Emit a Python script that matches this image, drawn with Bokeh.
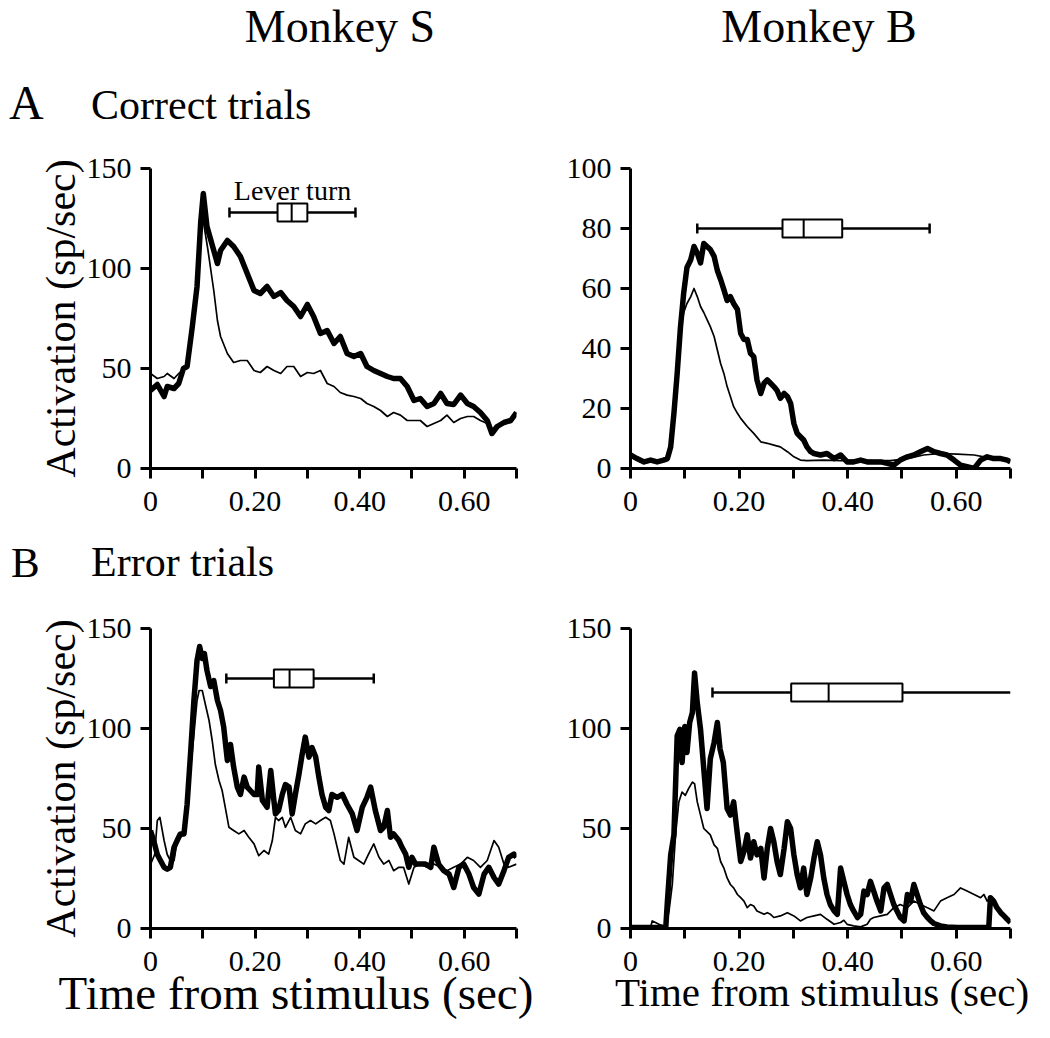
from math import pi
from bokeh.plotting import figure
from bokeh.layouts import column, row
from bokeh.models import FixedTicker, Range1d, CustomJSTickFormatter, Div, Label
from bokeh.embed import file_html
from bokeh.resources import INLINE

FONT = "Liberation Serif"

# ---------------- data ----------------
x_ticks = [0, 0.1, 0.2, 0.3, 0.4, 0.5, 0.6, 0.7]
y_ticks_150 = [0, 50, 100, 150]
y_ticks_100 = [0, 20, 40, 60, 80, 100]

# Panel A, Monkey S (correct trials)
as_t_thick = [0, .013, .026, .032, .045, .054, .063, .070, .080, .089, .096, .101, .108, .121, .128, .134, .147, .159, .172, .185,
              .198, .210, .223, .236, .249, .261, .274, .287, .300, .312, .325, .338, .351, .363, .376, .389, .402, .414, .427, .440,
              .453, .465, .478, .491, .504, .516, .529, .542, .555, .567, .580, .593, .606, .618, .631, .644, .653, .663, .676, .689, .700]
as_y_thick = [39, 42, 36, 41, 40, 42.5, 50, 51, 71, 91, 123, 137.5, 121, 109, 102.5, 109, 114, 111, 106, 97.5,
              89, 87.5, 91, 86, 88, 84, 81, 76, 82, 76, 67.5, 69, 62.5, 66, 57.5, 56, 57.5, 51, 49, 47.5,
              46, 45, 45, 41, 34, 35, 31, 32.5, 37.5, 32.5, 32, 36.7, 32.5, 31, 28, 24, 17.5, 21, 23, 24, 28]
as_t_thin = [0, .013, .026, .032, .045, .054, .063, .070, .080, .089, .096, .099, .110, .121, .128, .134, .147, .159, .172, .185,
             .198, .210, .223, .236, .249, .261, .274, .287, .300, .312, .325, .338, .351, .363, .376, .389, .402, .414, .427, .440,
             .453, .465, .478, .491, .504, .516, .529, .542, .555, .567, .580, .593, .606, .618, .631, .644, .653, .663, .676, .689, .700]
as_y_thin = [47.5, 45, 46, 47.5, 45, 47.5, 49, 51, 71, 91, 126, 127, 109, 89, 74, 66, 57.5, 53, 54, 54,
             49, 48, 51, 49, 47.5, 51, 51, 46, 48, 47.5, 49, 42.5, 41, 38, 36.7, 36, 35, 32.5, 31, 29,
             26, 28, 26.7, 24, 24, 24, 21, 22.5, 24, 26.7, 23, 25, 26, 26, 24, 22.5, 17.5, 21, 23, 24, 28]
as_box = [0.151, 0.243, 0.270, 0.300, 0.392]   # whisker lo, q1, median, q3, whisker hi
as_box_y = 128

# Panel A, Monkey B (correct trials)
ab_t_thick = [0, .012, .025, .037, .049, .061, .068, .074, .080, .086, .092, .098, .104, .111, .117, .123, .129, .135, .141, .147,
              .154, .160, .166, .172, .178, .184, .190, .197, .203, .209, .215, .221, .227, .233, .240, .246, .252, .258, .264, .270,
              .276, .283, .289, .295, .301, .307, .313, .319, .325, .332, .338, .350, .362, .375, .387, .399, .411, .424, .436, .448,
              .461, .473, .485, .497, .510, .522, .534, .547, .559, .571, .583, .596, .608, .620, .633, .645, .657, .669, .682, .694, .700]
ab_y_thick = [4.5, 3.3, 2.2, 2.8, 2.2, 2.8, 3.3, 7.2, 18.4, 31.7, 47, 58.5, 67, 69.6, 74, 71.8, 68.5, 75, 74, 73,
              70.7, 66, 63, 59.6, 56, 57.3, 55, 53, 45, 43, 43, 38.4, 37.3, 29.5, 25, 28.4, 29.5, 28.4, 27.3, 26,
              23.4, 25, 24, 21.7, 15, 11.7, 10.6, 9.5, 7.2, 5.6, 5, 4.5, 5, 3.3, 4.5, 2.2, 2.2, 2.8, 2.2, 2.2,
              2.2, 1.7, 1.1, 2.8, 3.9, 4.5, 5.6, 6.7, 5.6, 5, 4.5, 2.8, 1.1, 0.6, 0, 2.8, 3.9, 3.3, 3.3, 2.8, 2.2]
ab_t_thin = [0, .018, .049, .068, .074, .080, .086, .092, .098, .104, .111, .117, .123, .129, .135, .141, .147, .154, .160, .166,
             .172, .178, .184, .190, .197, .203, .215, .227, .240, .252, .264, .276, .289, .301, .313, .325, .356, .387, .418, .448,
             .479, .510, .540, .571, .602, .633, .651, .669, .700]
ab_y_thin = [3.9, 2.2, 2.2, 2.8, 6, 17.3, 31.7, 46, 52, 55, 57.3, 60, 57.3, 54, 52, 49.6, 47.3, 44, 39.5, 35,
             31.7, 27.3, 24, 20.6, 18.4, 16.7, 14, 11.7, 8.9, 8.4, 7.8, 7.2, 5.6, 3.9, 2.8, 2.6, 2.8, 2.6, 2.8, 2.6,
             2.6, 3.3, 4.5, 5, 4.8, 4.5, 3.9, 3.9, 2.8]
ab_box = [0.123, 0.280, 0.319, 0.390, 0.551]
ab_box_y = 80

# Panel B, Monkey S (error trials)
bs_t_thick = [0, .006, .013, .019, .026, .032, .038, .045, .051, .057, .064, .070, .077, .083, .089, .094, .099, .103, .108, .115,
              .121, .128, .134, .140, .147, .153, .159, .166, .172, .179, .185, .191, .198, .204, .207, .214, .223, .230, .236, .239,
              .245, .252, .258, .265, .271, .277, .284, .290, .296, .303, .309, .316, .322, .328, .335, .341, .347, .357, .367, .376,
              .386, .395, .405, .414, .421, .430, .440, .446, .453, .459, .465, .475, .481, .488, .494, .500, .507, .516, .526, .536,
              .542, .551, .561, .571, .580, .590, .599, .609, .618, .628, .638, .647, .657, .666, .676, .685, .695, .700]
bs_y_thick = [49, 44, 37, 34, 30.6, 29.7, 30.6, 40.6, 44, 47.3, 47.3, 62, 89, 114, 134, 141, 135, 137.5, 129, 121,
              124, 114, 109, 100.7, 84, 92, 80.7, 70.7, 67, 75.7, 70.7, 69, 67, 67, 80.7, 64, 60.6, 79, 64, 57.3,
              59, 67, 72, 70.7, 57.3, 67, 77.3, 87, 95.7, 85.7, 90.4, 85.7, 75.7, 67, 60.6, 59, 67, 65.6, 67, 62,
              57.3, 49, 60.6, 65.6, 70.7, 59, 49, 50.6, 59, 45.6, 47.3, 44, 40.6, 37.2, 30.6, 35.6, 32.2, 32.2, 32.2, 30.6,
              40.6, 32.2, 28.9, 27.2, 20.5, 30.6, 32.2, 27.2, 20.5, 17.2, 27.2, 30.6, 25.5, 22.2, 28.9, 35.6, 37.2, 35.6]
bs_t_thin = [0, .008, .013, .018, .026, .032, .038, .045, .051, .057, .064, .070, .077, .083, .089, .093, .099, .105, .112, .118,
             .124, .131, .137, .143, .150, .159, .169, .179, .188, .198, .207, .217, .226, .233, .239, .245, .252, .258, .268, .277,
             .287, .296, .306, .316, .325, .335, .344, .351, .357, .363, .370, .379, .389, .398, .408, .417, .427, .437, .446, .456,
             .465, .475, .484, .494, .504, .516, .529, .542, .555, .567, .580, .593, .606, .618, .631, .644, .657, .666, .676, .685, .700]
bs_y_thin = [32, 37, 54, 55.6, 44, 37, 34, 34, 44, 45.6, 47.3, 60.6, 80.7, 97, 114, 119, 119, 112, 104, 94,
             82, 74, 69, 60.6, 50.6, 49, 47.3, 49, 45.6, 42.3, 36.4, 39, 37.2, 44, 55.6, 54, 55.6, 50.6, 55.6, 49,
             47.3, 52.3, 54, 52.3, 54, 55.6, 54, 47.3, 40.6, 34, 32.2, 45.6, 35.6, 34, 32.2, 37.2, 42.3, 35.6, 32.2, 34,
             28.9, 30.6, 30.6, 22.2, 30.6, 32.2, 30.6, 32.2, 30.6, 28.9, 30.6, 32.2, 35.6, 34, 30.6, 34, 44, 40.6, 32.2, 30.6, 32.2]
bs_box = [0.145, 0.236, 0.266, 0.312, 0.427]
bs_box_y = 125

# Panel B, Monkey B (error trials)
bb_t_thick = [0, .061, .065, .068, .074, .080, .086, .091, .095, .100, .104, .109, .114, .118, .123, .129, .135, .141, .147, .154,
              .160, .165, .171, .178, .184, .190, .197, .203, .209, .215, .221, .227, .233, .240, .246, .252, .258, .264, .270, .276,
              .283, .289, .295, .301, .307, .313, .319, .325, .332, .338, .344, .350, .356, .362, .368, .375, .381, .387, .393, .399,
              .405, .411, .418, .424, .430, .436, .442, .448, .454, .461, .467, .473, .479, .485, .491, .497, .504, .510, .516, .522,
              .528, .534, .540, .547, .553, .559, .571, .583, .602, .620, .645, .660, .663, .669, .675, .682, .688, .694, .700]
bb_y_thick = [0.5, 0.5, 0.5, 13.7, 36.8, 46.8, 96.3, 99.6, 83, 101, 88, 103, 108, 127.7, 112.8, 99.6, 79.8, 60, 84.8, 93,
              103, 89.7, 83, 60, 56.7, 63.3, 46.8, 33.5, 38.5, 46.8, 35.2, 43.4, 36.8, 40.1, 25.3, 40.1, 50, 43.4, 33.5, 27,
              40.1, 53.4, 50, 36.8, 27, 20.3, 30.2, 17, 25.3, 35.2, 43.4, 36.8, 25.3, 17, 12, 8.8, 7.1, 30.2, 23.6, 17,
              12, 8.8, 5.5, 7.1, 18.7, 17, 23.6, 18.7, 13.7, 8.8, 20.3, 22, 17, 12, 8.8, 5.5, 3.8, 17, 13.7, 22,
              17, 12, 7.9, 5.5, 3.8, 2.5, 1.3, 0.8, 0.5, 0.5, 0.5, 0.5, 15.4, 13.7, 10.4, 7.9, 6.3, 4.6, 3]
bb_t_thin = [0, .018, .037, .040, .046, .055, .065, .071, .077, .083, .089, .095, .101, .107, .114, .118, .123, .129, .135, .141,
             .147, .154, .160, .166, .172, .178, .184, .190, .197, .203, .209, .215, .221, .227, .233, .240, .246, .252, .258, .264,
             .276, .289, .301, .313, .325, .338, .350, .362, .375, .387, .393, .399, .411, .424, .436, .442, .448, .461, .473, .485,
             .497, .510, .522, .534, .547, .559, .571, .583, .596, .608, .620, .633, .645, .651, .657, .663, .669, .682, .694, .700]
bb_y_thin = [1.3, 0.5, 0.5, 3.8, 3, 1.8, 0.8, 8.8, 22, 46.8, 63.3, 68.2, 66.6, 69.9, 73.2, 72.4, 63.3, 56.7, 50, 48.4,
             46.8, 41.8, 40.1, 33.5, 30.2, 25.3, 22, 20.3, 17, 15.4, 13.7, 10.4, 12, 11.2, 8.8, 7.9, 7.1, 7.9, 7.1, 5.5,
             6.3, 7.9, 6.3, 3.8, 5.5, 6.3, 7.1, 4.6, 2.1, 3, 4.1, 2.1, 1.3, 0.8, 2.1, 4.6, 5.5, 6.3, 7.1, 10.4,
             12, 10.4, 13.7, 12, 10.4, 8.8, 13.7, 15.4, 17, 20.3, 18.7, 17, 15.4, 17, 13.7, 15.4, 12, 7.1, 4.6, 3]
bb_box = [0.151, 0.296, 0.365, 0.501, 0.700]
bb_box_y = 118

# ---------------- drawing ----------------
x_fmt = CustomJSTickFormatter(code="""
    const k = Math.round(tick * 10);
    if (k % 2 !== 0) return "";
    return k === 0 ? "0" : tick.toFixed(2);
""")


def panel(width, height, left, right, top, bottom, ymax, yticks, ylabel=None):
    p = figure(width=width, height=height, x_range=Range1d(0, 0.7), y_range=Range1d(0, ymax),
               output_backend="svg", toolbar_location=None, title_location=None,
               min_border_left=left, min_border_right=right,
               min_border_top=top, min_border_bottom=bottom)
    p.xgrid.visible = False
    p.ygrid.visible = False
    p.outline_line_color = None
    p.background_fill_color = "white"
    p.border_fill_color = "white"
    for ax in (p.xaxis[0], p.yaxis[0]):
        ax.axis_line_width = 3
        ax.axis_line_color = "black"
        ax.major_tick_line_width = 3
        ax.major_tick_line_color = "black"
        ax.major_tick_in = 0
        ax.major_tick_out = 10
        ax.minor_tick_line_color = None
        ax.major_label_text_font = FONT
        ax.major_label_text_font_size = "30px"
        ax.major_label_text_color = "black"
    p.xaxis.ticker = FixedTicker(ticks=x_ticks)
    p.xaxis.formatter = x_fmt
    p.xaxis.major_label_standoff = 13
    p.yaxis.ticker = FixedTicker(ticks=yticks)
    p.yaxis.major_label_standoff = 9
    if ylabel:
        p.yaxis.axis_label = ylabel
        p.yaxis.axis_label_text_font = FONT
        p.yaxis.axis_label_text_font_size = "42px"
        p.yaxis.axis_label_text_font_style = "normal"
        p.yaxis.axis_label_text_color = "black"
        p.yaxis.axis_label_standoff = 0
    return p


def traces(p, t_thin, y_thin, t_thick, y_thick):
    p.line(t_thin, y_thin, line_width=1.7, line_color="black", line_join="round")
    p.line(t_thick, y_thick, line_width=5.5, line_color="black", line_join="round")


def boxplot(p, b, yb, caps=(True, True)):
    lo, q1, med, q3, hi = b
    p.segment(x0=[lo], y0=[yb], x1=[hi], y1=[yb], line_width=2.5, line_color="black")
    cx = [v for v, c in zip([lo, hi], caps) if c]
    p.scatter(x=cx, y=[yb] * len(cx), marker="dash", angle=pi / 2, size=10,
              line_width=2.5, line_color="black")
    p.rect(x=[(q1 + q3) / 2], y=[yb], width=[q3 - q1], height=18, height_units="screen",
           fill_color="white", line_color="black", line_width=2)
    p.scatter(x=[med], y=[yb], marker="dash", angle=pi / 2, size=18,
              line_width=2, line_color="black")


def span(text, x, baseline, size, align="left"):
    top = baseline - 0.6375 * size
    if align == "center":
        pos = f"left:{x - 300}px;width:600px;text-align:center;"
    else:
        pos = f"left:{x}px;"
    return (f'<span style="position:absolute;{pos}top:{top:.1f}px;font-family:\'{FONT}\';'
            f'font-size:{size}px;line-height:0.6;white-space:nowrap;color:black;">{text}</span>')


def header(width, height, spans):
    html = (f'<div style="position:relative;width:{width}px;height:{height}px;overflow:visible;">'
            + "".join(spans) + "</div>")
    return Div(text=html, width=width, height=height, margin=0)


YLAB = "Activation (sp/sec)"
XLAB = "Time from stimulus (sec)"
TOTAL_W = 1045

top_div = header(TOTAL_W, 148, [
    span("Monkey S", 340, 42, 46, "center"),
    span("Monkey B", 819, 42, 46, "center"),
    span("A", 9, 120, 48),
    span("Correct trials", 91, 120, 42),
])

p1 = panel(552, 380, 150, 36, 20, 60, 150, y_ticks_150, YLAB)
traces(p1, as_t_thin, as_y_thin, as_t_thick, as_y_thick)
boxplot(p1, as_box, as_box_y)
p1.add_layout(Label(x=0.2716, y=139, text="Lever turn", text_font=FONT, text_font_size="28px",
                    text_align="center", text_baseline="alphabetic", text_color="black"))

p2 = panel(493, 380, 78, 35, 20, 60, 100, y_ticks_100)
traces(p2, ab_t_thin, ab_y_thin, ab_t_thick, ab_y_thick)
boxplot(p2, ab_box, ab_box_y)

mid_div = header(TOTAL_W, 70, [
    span("B", 11, 49, 43),
    span("Error trials", 91, 49, 42),
])

p3 = panel(552, 380, 150, 36, 30, 50, 150, y_ticks_150, YLAB)
traces(p3, bs_t_thin, bs_y_thin, bs_t_thick, bs_y_thick)
boxplot(p3, bs_box, bs_box_y)

p4 = panel(493, 380, 78, 35, 30, 50, 150, y_ticks_150)
traces(p4, bb_t_thin, bb_y_thin, bb_t_thick, bb_y_thick)
boxplot(p4, bb_box, bb_box_y, caps=(True, False))

bottom_div = header(TOTAL_W, 52, [
    span(XLAB, 296, 31, 47, "center"),
    span(XLAB, 822, 28, 41, "center"),
])

layout = column(top_div, row(p1, p2), mid_div, row(p3, p4), bottom_div, spacing=0)

open("out.html", "w").write(file_html(layout, INLINE))
